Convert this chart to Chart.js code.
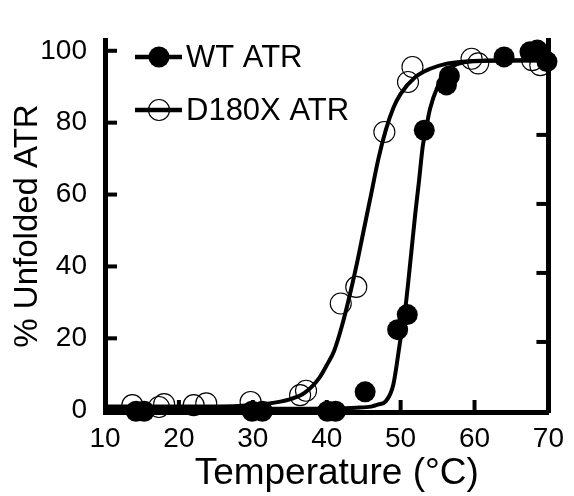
<!DOCTYPE html>
<html>
<head>
<meta charset="utf-8">
<script src="https://cdn.jsdelivr.net/npm/chart.js@4/dist/chart.umd.min.js"></script>
<style>
  html, body { margin: 0; padding: 0; background: #fff; }
  #wrap { width: 574px; height: 496px; }
</style>
</head>
<body>
<div id="wrap"><canvas id="meltChart" width="574" height="496"></canvas></div>
<script>
// measured points
const wtTemp = [14.2, 15.3, 29.9, 31.3, 40.1, 41.2, 45.2, 49.6, 50.9, 53.2, 56.2, 56.6, 64.0, 67.5, 68.5, 69.8];
const wtUnfolded = [-0.3, -0.3, -0.3, -0.3, -0.3, -0.3, 5.1, 22.4, 26.6, 77.9, 90.5, 93.0, 98.3, 99.7, 100.2, 97.0];
const d180Temp = [13.7, 17.3, 18.0, 22.0, 23.7, 29.7, 36.4, 37.2, 41.9, 44.0, 47.8, 51.0, 51.6, 59.6, 60.5, 67.8, 68.9];
const d180Unfolded = [1.4, 0.9, 1.7, 1.4, 1.9, 2.3, 4.2, 5.4, 29.7, 34.3, 77.4, 91.3, 95.5, 97.8, 96.5, 97.4, 96.0];

// fitted curves
const wtFitTemp = [10, 20, 30, 40, 44, 46, 47, 48, 49, 50, 50.5, 51, 51.5, 52, 52.5, 53, 53.5, 54, 55, 56, 56.5, 58, 60, 65, 70];
const wtFitUnfolded = [0.4, 0.4, 0.4, 0.5, 0.7, 1.0, 1.6, 2.5, 7, 20, 26, 35, 45, 55, 64, 73.5, 79, 84, 90, 93.5, 95, 96.5, 97.1, 97.3, 97.3];
const d180FitTemp = [10, 20, 28, 32, 35, 37, 39, 40, 41, 42, 43, 44, 45, 46, 47, 48, 49, 50, 52, 54, 56, 58, 62, 70];
const d180FitUnfolded = [1.0, 1.0, 1.2, 1.8, 3.0, 4.8, 9, 12.5, 16.5, 23, 31, 40, 50, 60, 70, 78, 84, 88, 92.7, 95, 96.3, 96.9, 97.3, 97.4];

const xTicks = [10, 20, 30, 40, 50, 60, 70];
const yTicks = [0, 20, 40, 60, 80, 100];
const y2Ticks = [20, 40, 60, 80];
const xTitle = 'Temperature (°C)';

const toXY = (xs, ys) => xs.map((x, i) => ({ x: x, y: ys[i] }));
const FONT = "'Liberation Sans', Arial, Helvetica, sans-serif";

// inward tick marks on left, right and bottom axes
const innerTicks = {
  id: 'innerTicks',
  beforeDatasetsDraw(chart) {
    const { ctx, chartArea: a, scales } = chart;
    const len = 12;
    ctx.save();
    ctx.strokeStyle = '#000';
    ctx.lineWidth = 4;
    yTicks.forEach(v => {
      const py = scales.y.getPixelForValue(v);
      ctx.beginPath(); ctx.moveTo(a.left, py); ctx.lineTo(a.left + len, py); ctx.stroke();
    });
    y2Ticks.forEach(v => {
      const py = scales.y2.getPixelForValue(v);
      ctx.beginPath(); ctx.moveTo(a.right, py); ctx.lineTo(a.right - len, py); ctx.stroke();
    });
    xTicks.slice(1, -1).forEach(v => {
      const px = scales.x.getPixelForValue(v);
      ctx.beginPath(); ctx.moveTo(px, a.bottom); ctx.lineTo(px, a.bottom - len); ctx.stroke();
    });
    ctx.restore();
  }
};

// legend (line with marker, then label) and the x axis title
const lineLegend = {
  id: 'lineLegend',
  afterDraw(chart) {
    const { ctx, chartArea: a } = chart;
    const items = [
      { text: 'WT ATR', filled: true, dy: 17 },
      { text: 'D180X ATR', filled: false, dy: 70 }
    ];
    ctx.save();
    items.forEach(it => {
      const y = a.top + it.dy;
      const x0 = a.left + 30, x1 = a.left + 77, cx = a.left + 54;
      ctx.strokeStyle = '#000';
      ctx.lineWidth = 4.5;
      ctx.beginPath(); ctx.moveTo(x0, y); ctx.lineTo(x1, y); ctx.stroke();
      ctx.beginPath();
      ctx.arc(cx, y, 10.5, 0, Math.PI * 2);
      if (it.filled) {
        ctx.fillStyle = '#000'; ctx.fill();
      } else {
        ctx.fillStyle = '#fff'; ctx.fill();
        ctx.lineWidth = 1.2; ctx.stroke();
        ctx.lineWidth = 4.5;
        ctx.beginPath(); ctx.moveTo(cx - 10.5, y); ctx.lineTo(cx + 10.5, y); ctx.stroke();
      }
      ctx.fillStyle = '#000';
      ctx.font = '31px ' + FONT;
      ctx.textAlign = 'left';
      ctx.textBaseline = 'middle';
      ctx.fillText(it.text, x1 + 4, y + 1.5);
    });
    // x title sits a little right of the plot centre in the original
    ctx.font = '37px ' + FONT;
    ctx.textAlign = 'center';
    ctx.textBaseline = 'middle';
    ctx.fillText(xTitle, (a.left + a.right) / 2 + 10, a.bottom + 62);
    ctx.restore();
  }
};

const ctx = document.getElementById('meltChart').getContext('2d');
const meltChart = new Chart(ctx, {
  type: 'scatter',
  data: {
    datasets: [
      {
        label: 'WT ATR',
        data: toXY(wtTemp, wtUnfolded),
        showLine: false,
        pointRadius: 10.5,
        pointBackgroundColor: '#000',
        pointBorderColor: '#000',
        pointBorderWidth: 0,
        clip: false,
        order: 1
      },
      {
        label: 'D180X ATR',
        data: toXY(d180Temp, d180Unfolded),
        showLine: false,
        pointRadius: 10.5,
        pointBackgroundColor: 'rgba(0,0,0,0)',
        pointBorderColor: '#000',
        pointBorderWidth: 1.1,
        clip: false,
        order: 2
      },
      {
        label: 'WT fit',
        data: toXY(wtFitTemp, wtFitUnfolded),
        showLine: true,
        pointRadius: 0,
        borderColor: '#000',
        borderWidth: 4,
        cubicInterpolationMode: 'monotone',
        order: 3
      },
      {
        label: 'D180X fit',
        data: toXY(d180FitTemp, d180FitUnfolded),
        showLine: true,
        pointRadius: 0,
        borderColor: '#000',
        borderWidth: 4,
        cubicInterpolationMode: 'monotone',
        order: 4
      }
    ]
  },
  options: {
    responsive: false,
    animation: false,
    events: [],
    layout: { padding: { top: 40, left: 0, right: 0, bottom: 0 } },
    plugins: {
      legend: { display: false },
      tooltip: { enabled: false }
    },
    scales: {
      x: {
        type: 'linear',
        position: 'bottom',
        min: 10,
        max: 70,
        afterBuildTicks: s => { s.ticks = xTicks.map(v => ({ value: v })); },
        afterFit: s => { s.height = 84; },
        grid: { display: true, drawOnChartArea: false, drawTicks: false },
        border: { display: true, color: '#000', width: 5 },
        ticks: { color: '#000', font: { family: FONT, size: 28 }, padding: 10, maxRotation: 0 },
        title: { display: false, text: xTitle }
      },
      y: {
        type: 'linear',
        position: 'left',
        min: -0.5,
        max: 103,
        afterBuildTicks: s => { s.ticks = yTicks.map(v => ({ value: v })); },
        afterFit: s => { s.width = 105; },
        grid: { display: true, drawOnChartArea: false, drawTicks: false },
        border: { display: true, color: '#000', width: 5 },
        ticks: { color: '#000', font: { family: FONT, size: 28 }, padding: 18 },
        title: {
          display: true,
          text: '% Unfolded ATR',
          color: '#000',
          font: { family: FONT, size: 33 },
          padding: { top: 8, bottom: 0 }
        }
      },
      y2: {
        type: 'linear',
        position: 'right',
        min: -0.3,
        max: 107.5,
        afterBuildTicks: s => { s.ticks = y2Ticks.map(v => ({ value: v })); },
        afterFit: s => { s.width = 17; },
        grid: { display: true, drawOnChartArea: false, drawTicks: false },
        border: { display: true, color: '#000', width: 5 },
        ticks: { display: false }
      }
    }
  },
  plugins: [innerTicks, lineLegend]
});
</script>
</body>
</html>
